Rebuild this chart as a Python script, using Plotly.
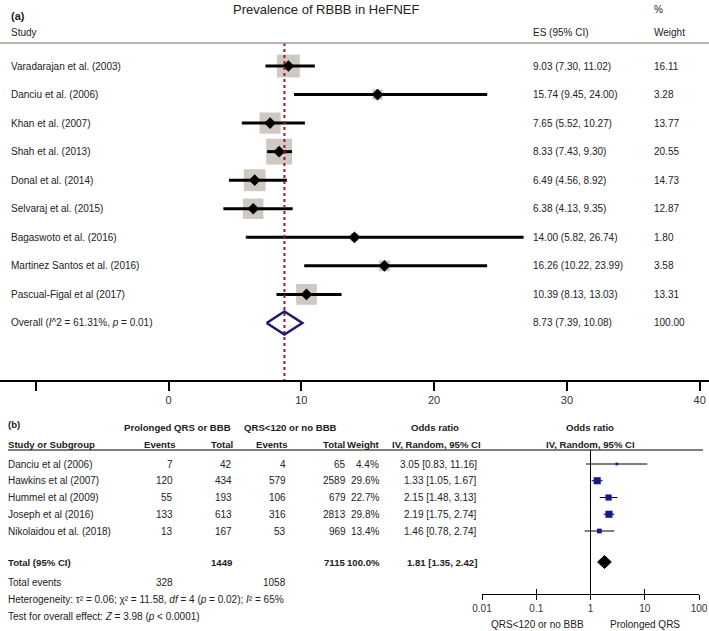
import plotly.graph_objects as go
import numpy as np

W, H = 709, 631
FONT = "Liberation Sans, Arial, sans-serif"

# ---------------- Panel (a) data ----------------
studies_a = ["Varadarajan et al. (2003)", "Danciu et al. (2006)", "Khan et al. (2007)",
             "Shah et al. (2013)", "Donal et al. (2014)", "Selvaraj et al. (2015)",
             "Bagaswoto et al. (2016)", "Martinez Santos et al. (2016)", "Pascual-Figal et al (2017)"]
es_a = [9.03, 15.74, 7.65, 8.33, 6.49, 6.38, 14.00, 16.26, 10.39]
lo_a = [7.30, 9.45, 5.52, 7.43, 4.56, 4.13, 5.82, 10.22, 8.13]
hi_a = [11.02, 24.00, 10.27, 9.30, 8.92, 9.35, 26.74, 23.99, 13.03]
weight_a = [16.11, 3.28, 13.77, 20.55, 14.73, 12.87, 1.80, 3.58, 13.31]
overall_a = {"es": 8.73, "lo": 7.39, "hi": 10.08, "w": 100.00}
overall_label = "Overall (<i>I</i>^2 = 61.31%, <i>p</i> = 0.01)"
xticks_a = [-10, 0, 10, 20, 30, 40]
xticklabels_a = ["", "0", "10", "20", "30", "40"]

# ---------------- Panel (b) data ----------------
studies_b = ["Danciu et al (2006)", "Hawkins et al (2007)", "Hummel et al (2009)",
             "Joseph et al (2016)", "Nikolaidou et al. (2018)"]
events1_b = [7, 120, 55, 133, 13]
total1_b = [42, 434, 193, 613, 167]
events2_b = [4, 579, 106, 316, 53]
total2_b = [65, 2589, 679, 2813, 969]
weight_b = [4.4, 29.6, 22.7, 29.8, 13.4]
or_b = [3.05, 1.33, 2.15, 2.19, 1.46]
orlo_b = [0.83, 1.05, 1.48, 1.75, 0.78]
orhi_b = [11.16, 1.67, 3.13, 2.74, 2.74]
total_b = {"n1": 1449, "n2": 7115, "w": 100.0, "or": 1.81, "lo": 1.35, "hi": 2.42,
           "ev1": 328, "ev2": 1058}
xticks_b = [0.01, 0.1, 1, 10, 100]
xticklabels_b = ["0.01", "0.1", "1", "10", "100"]

# ---------------- geometry helpers ----------------
def px(x):
    return x / W

def py(y):
    return 1 - y / H

# panel a: row i at pixel 66 + 28.55*i ; axis line at 380
A_ROW0, A_STEP, A_AXIS = 66.0, 28.55, 380.0
a_yrange = [(A_AXIS - A_ROW0) / A_STEP, (0 - A_ROW0) / A_STEP]
A_X0, A_SCALE = 168.5, 13.28
a_xrange = [(0 - A_X0) / A_SCALE, (W - A_X0) / A_SCALE]

# panel b: row i at pixel 464 + 16.75*i ; header line 450, axis 594
B_ROW0, B_STEP, B_TOP, B_AXIS = 464.0, 16.75, 450.0, 594.0
b_yrange = [(B_AXIS - B_ROW0) / B_STEP, (B_TOP - B_ROW0) / B_STEP]
B_TOTAL_ROW = (562 - B_ROW0) / B_STEP

fig = go.Figure()

n_a = len(studies_a)
rows_a = list(range(n_a))
overall_row = n_a

BOX = "#b9b3a9"
NAVY = "#1c1c6c"
RED = "#a8142a"

# boxes (area proportional to weight)
fig.add_trace(go.Scatter(x=es_a, y=rows_a, mode="markers", xaxis="x", yaxis="y",
                         marker=dict(symbol="square", color=BOX,
                                     size=[5.7 * np.sqrt(w) for w in weight_a], line=dict(width=0)),
                         hoverinfo="skip", showlegend=False))
# CI lines
cx, cy = [], []
for lo, hi, r in zip(lo_a, hi_a, rows_a):
    cx += [lo, hi, None]
    cy += [r, r, None]
fig.add_trace(go.Scatter(x=cx, y=cy, mode="lines", xaxis="x", yaxis="y",
                         line=dict(color="black", width=3), hoverinfo="skip", showlegend=False))
# point estimates
fig.add_trace(go.Scatter(x=es_a, y=rows_a, mode="markers", xaxis="x", yaxis="y",
                         marker=dict(symbol="diamond", color="black", size=9),
                         hoverinfo="skip", showlegend=False))
# overall reference line
fig.add_trace(go.Scatter(x=[overall_a["es"], overall_a["es"]],
                         y=[(43 - A_ROW0) / A_STEP, a_yrange[0]], mode="lines",
                         xaxis="x", yaxis="y", line=dict(color=RED, width=2, dash="3px,3px"),
                         hoverinfo="skip", showlegend=False))
# overall diamond
dh = 11.5 / A_STEP
fig.add_trace(go.Scatter(x=[overall_a["lo"], overall_a["es"], overall_a["hi"], overall_a["es"], overall_a["lo"]],
                         y=[overall_row, overall_row - dh, overall_row, overall_row + dh, overall_row],
                         mode="lines", fill="toself", fillcolor="rgba(255,255,255,0)",
                         xaxis="x", yaxis="y", line=dict(color=NAVY, width=2.5),
                         hoverinfo="skip", showlegend=False))

# ---------------- panel b marks ----------------
BLUE = "#18188e"
rows_b = list(range(len(studies_b)))
bx, by = [], []
for lo, hi, r in zip(orlo_b, orhi_b, rows_b):
    bx += [lo, hi, None]
    by += [r, r, None]
fig.add_trace(go.Scatter(x=bx, y=by, mode="lines", xaxis="x2", yaxis="y2",
                         line=dict(color="black", width=1), hoverinfo="skip", showlegend=False))
fig.add_trace(go.Scatter(x=or_b, y=rows_b, mode="markers", xaxis="x2", yaxis="y2",
                         marker=dict(symbol="square", color=BLUE, opacity=1,
                                     size=[1.3 * np.sqrt(w) for w in weight_b], line=dict(width=0)),
                         hoverinfo="skip", showlegend=False))
th = 6.5 / B_STEP
fig.add_trace(go.Scatter(x=[total_b["lo"], total_b["or"], total_b["hi"], total_b["or"], total_b["lo"]],
                         y=[B_TOTAL_ROW, B_TOTAL_ROW - th, B_TOTAL_ROW, B_TOTAL_ROW + th, B_TOTAL_ROW],
                         mode="lines", fill="toself", fillcolor="black",
                         xaxis="x2", yaxis="y2", line=dict(color="black", width=1),
                         hoverinfo="skip", showlegend=False))
# invisible trace for overlay axis
fig.add_trace(go.Scatter(x=[1], y=[0], mode="markers", xaxis="x3", yaxis="y2",
                         marker=dict(opacity=0), hoverinfo="skip", showlegend=False))

# ---------------- annotations ----------------
ann = []

def text(x, y, s, anchor="left", size=10, bold=False, yref="paper", color="#222222"):
    if bold:
        s = "<b>" + s + "</b>"
    ann.append(dict(x=px(x), y=(py(y) if yref == "paper" else y), xref="paper", yref=yref,
                    text=s, showarrow=False, xanchor=anchor, yanchor="middle",
                    font=dict(family=FONT, size=size, color=color), borderpad=0, borderwidth=0))

BS = 9.6  # bold table font size
# panel a headers
text(11, 16, "(a)", size=11, bold=True)
text(326, 9, "Prevalence of RBBB in HeFNEF", anchor="center", size=13)
text(654, 10, "%", size=10)
text(11, 33, "Study")
text(533, 33, "ES (95% CI)")
text(654, 33, "Weight")
for i, s in enumerate(studies_a):
    text(11, i, s, yref="y")
    text(533, i, f"{es_a[i]:.2f} ({lo_a[i]:.2f}, {hi_a[i]:.2f})", yref="y")
    text(654, i, f"{weight_a[i]:.2f}", yref="y")
text(11, overall_row, overall_label, yref="y")
text(533, overall_row, f"{overall_a['es']:.2f} ({overall_a['lo']:.2f}, {overall_a['hi']:.2f})", yref="y")
text(654, overall_row, f"{overall_a['w']:.2f}", yref="y")

# panel b headers
text(8, 424, "(b)", bold=True, size=BS)
text(177, 427, "Prolonged QRS or BBB", anchor="center", bold=True, size=BS)
text(290, 427, "QRS&lt;120 or no BBB", anchor="center", bold=True, size=BS)
text(435, 427, "Odds ratio", anchor="center", bold=True, size=BS)
text(590, 427, "Odds ratio", anchor="center", bold=True, size=BS)
text(8, 444, "Study or Subgroup", bold=True, size=BS)
text(175, 444, "Events", anchor="right", bold=True, size=BS)
text(233, 444, "Total", anchor="right", bold=True, size=BS)
text(287, 444, "Events", anchor="right", bold=True, size=BS)
text(345, 444, "Total", anchor="right", bold=True, size=BS)
text(380, 444, "Weight", anchor="right", bold=True, size=BS)
text(436, 444, "IV, Random, 95% CI", anchor="center", bold=True, size=BS)
text(590, 444, "IV, Random, 95% CI", anchor="center", bold=True, size=BS)

for i, s in enumerate(studies_b):
    text(8, i, s, yref="y2")
    text(173, i, str(events1_b[i]), anchor="right", yref="y2")
    text(232, i, str(total1_b[i]), anchor="right", yref="y2")
    text(286, i, str(events2_b[i]), anchor="right", yref="y2")
    text(346, i, str(total2_b[i]), anchor="right", yref="y2")
    text(379, i, f"{weight_b[i]:.1f}%", anchor="right", yref="y2")
    text(477, i, f"{or_b[i]:.2f} [{orlo_b[i]:.2f}, {orhi_b[i]:.2f}]", anchor="right", yref="y2")

text(8, B_TOTAL_ROW, "Total (95% CI)", bold=True, yref="y2", size=BS)
text(232, B_TOTAL_ROW, str(total_b["n1"]), anchor="right", bold=True, yref="y2", size=BS)
text(345, B_TOTAL_ROW, str(total_b["n2"]), anchor="right", bold=True, yref="y2", size=BS)
text(380, B_TOTAL_ROW, f"{total_b['w']:.1f}%", anchor="right", bold=True, yref="y2", size=BS)
text(477, B_TOTAL_ROW, f"{total_b['or']:.2f} [{total_b['lo']:.2f}, {total_b['hi']:.2f}]",
     anchor="right", bold=True, yref="y2", size=BS)
text(8, 582, "Total events")
text(173, 582, str(total_b["ev1"]), anchor="right")
text(286, 582, str(total_b["ev2"]), anchor="right")
text(8, 599, "Heterogeneity: τ² = 0.06; χ² = 11.58, <i>df</i> = 4 (<i>p</i> = 0.02); <i>I</i>² = 65%")
text(8, 616, "Test for overall effect: <i>Z</i> = 3.98 (<i>p</i> &lt; 0.0001)")
text(537, 624, "QRS&lt;120 or no BBB", anchor="center")
text(645, 624, "Prolonged QRS", anchor="center")

# ---------------- shapes ----------------
shapes = [
    dict(type="line", xref="paper", yref="paper", x0=0, x1=1, y0=py(43), y1=py(43),
         line=dict(color="#a39d94", width=1.5)),
    dict(type="line", xref="paper", yref="paper", x0=px(8), x1=px(703), y0=py(B_TOP), y1=py(B_TOP),
         line=dict(color="black", width=1)),
    dict(type="line", xref="x2", yref="y2 domain", x0=1, x1=1, y0=0, y1=1,
         line=dict(color="black", width=1)),
]

b_dom = [px(482), px(699)]
fig.update_layout(
    width=W, height=H, margin=dict(l=0, r=0, t=0, b=0, autoexpand=False),
    paper_bgcolor="white", plot_bgcolor="rgba(0,0,0,0)",
    showlegend=False, annotations=ann, shapes=shapes,
    font=dict(family=FONT, size=10, color="#222"),
    xaxis=dict(domain=[0, 1], range=a_xrange, anchor="y", showgrid=False, zeroline=False,
               showline=True, linecolor="black", linewidth=2,
               ticks="outside", ticklen=9, tickwidth=2, tickcolor="black",
               tickvals=xticks_a, ticktext=xticklabels_a, automargin=False,
               tickfont=dict(family=FONT, size=11, color="#333")),
    yaxis=dict(domain=[py(A_AXIS), 1], range=a_yrange, visible=False, showgrid=False),
    xaxis2=dict(domain=b_dom, type="log", range=[-2, 2], anchor="y2", showgrid=False,
                zeroline=False, showline=True, linecolor="black", linewidth=1,
                ticks="outside", ticklen=5, tickwidth=1, tickcolor="black",
                tickvals=xticks_b, ticktext=xticklabels_b, automargin=False,
                tickfont=dict(family=FONT, size=10, color="#333")),
    xaxis3=dict(domain=b_dom, type="log", range=[-2, 2], anchor="y2", overlaying="x2",
                showgrid=False, zeroline=False, showline=False, showticklabels=False,
                ticks="inside", ticklen=5, tickwidth=1, tickcolor="black", tickvals=xticks_b),
    yaxis2=dict(domain=[py(B_AXIS), py(B_TOP)], range=b_yrange, visible=False, showgrid=False),
)

fig.write_html("out.html", config={"displayModeBar": False, "staticPlot": True},
               post_script="document.body.style.margin='0px';document.body.style.padding='0px';"
                           "document.documentElement.style.overflow='hidden';")
